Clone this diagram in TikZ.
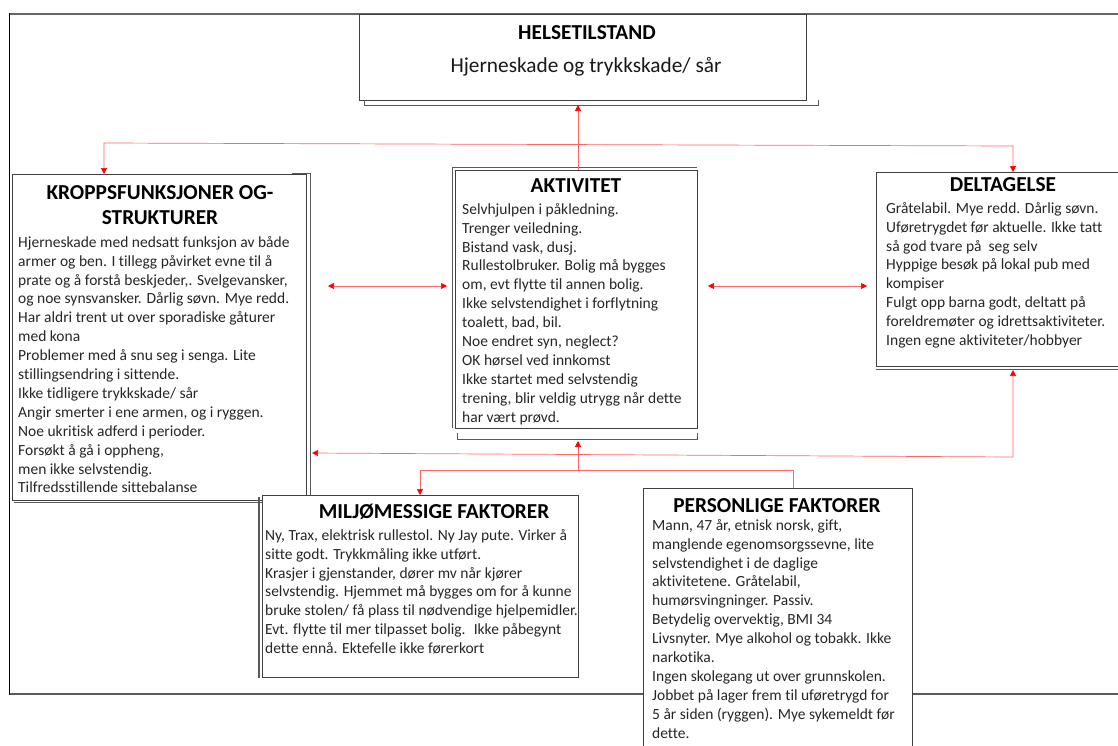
\documentclass[tikz,border=0pt]{standalone}
\usepackage{fontspec}
\setmainfont{Carlito}[Ligatures=NoCommon]
\usetikzlibrary{arrows.meta}
\begin{document}
\begin{tikzpicture}[x=1pt,y=-1pt,
  box/.style={draw=black!75, line width=0.9pt, fill=white, inner sep=0pt, anchor=north west},
  edge/.style={draw=black!65, line width=1pt},
  head/.style={font=\fontsize{21.3}{25}\selectfont\bfseries, text=black, inner sep=0pt, align=center},
  body/.style={font=\fontsize{15.5}{18.9}\selectfont, text=black!85, inner sep=0pt, align=left, anchor=north west},
  link/.style={draw=red!60, line width=0.7pt, >={Triangle[color=red, length=6pt, width=6pt]}},
]
\useasboundingbox (0,0) rectangle (1118,745);

% outer frame
\draw[draw=black!60, line width=1.8pt] (1130,14) -- (9.5,14);
\draw[draw=black, line width=1.2pt] (9.5,13) -- (9.5,695);
\draw[draw=black!65, line width=1.2pt] (9.5,694) -- (1130,694);

% boxes
\node[box, minimum width=294pt, minimum height=326pt] (kropp) at (12,174) {};
\draw[edge] (292,173) -- (310,173) -- (310,502) -- (14,502);
\node[box, minimum width=242pt, minimum height=258pt] (akt) at (455,170) {};
\draw[edge] (452,428) -- (452,167) -- (697,167);
\draw[edge] (457,433) -- (457,439) -- (697,439) -- (697,433);
\node[box, minimum width=250pt, minimum height=194pt] (delt) at (876,172) {};
\draw[edge] (876,369) -- (1130,369);
\node[box, minimum width=447pt, minimum height=86pt] (helse) at (359,14) {};
\draw[edge] (364,100) -- (364,105) -- (818,105) -- (818,100);
\node[box, minimum width=316pt, minimum height=182pt] (milj) at (262,495) {};
\draw[edge, line width=1.5pt] (259,497) -- (259,678);
\node[box, minimum width=269pt, minimum height=270pt] (pers) at (643,488) {};

% connectors
\coordinate (up) at (578,105);
\coordinate (tl) at (104,143);
\coordinate (tr) at (1013,146);
\coordinate (kl) at (328,286);
\coordinate (ar) at (447,286);
\coordinate (al) at (708,286);
\coordinate (dr) at (867,286);
\coordinate (bj) at (578,470);
\coordinate (bl) at (420,470);
\coordinate (br) at (793,470);
\coordinate (bk) at (312,453);
\coordinate (bd) at (1013,457);
\coordinate (bracket) at (578,441);

\draw[link,->] (akt.north -| up) -- (up);
\draw[link,<->] (tl |- kropp.north) -- (tl) -- (tr) -- (tr |- delt.north);
\draw[link,<->] (kl) -- (ar);
\draw[link,<->] (al) -- (dr);
\draw[link,->] (bj) -- (bracket);
\draw[link,->] (br |- pers.north) -- (br) -- (bl) -- (bl |- milj.north);
\draw[link,<->] (bk) -- (bd) -- (1013,370);

% headings
\node[head] (thelse) at (587,33) {HELSETILSTAND};
\node[font=\fontsize{21.3}{25}\selectfont, text=black!90, inner sep=0pt, anchor=base] (shelse) at (586,72) {Hjerneskade og trykkskade/ sår};
\node[head] (tkropp) at (160,205.5) {KROPPSFUNKSJONER OG-\\STRUKTURER};
\node[head] (takt) at (576,186) {AKTIVITET};
\node[head] (tdelt) at (1003,185) {DELTAGELSE};
\node[head] (tmilj) at (434,512) {MILJØMESSIGE FAKTORER};
\node[head] (tpers) at (777,506) {PERSONLIGE FAKTORER};

% body texts
\node[body] (bkropp) at (18,233.8) {\strut Hjerneskade med nedsatt funksjon av både\\
armer og ben. I tillegg påvirket evne til å\\
prate og å forstå beskjeder,. Svelgevansker,\\
og noe synsvansker. Dårlig søvn. Mye redd.\\
Har aldri trent ut over sporadiske gåturer\\
med kona\\
Problemer med å snu seg i senga. Lite\\
stillingsendring i sittende.\\
Ikke tidligere trykkskade/ sår\\
Angir smerter i ene armen, og i ryggen.\\
Noe ukritisk adferd i perioder.\\
Forsøkt å gå i oppheng,\\
men ikke selvstendig.\\
Tilfredsstillende sittebalanse};

\node[body] (bakt) at (462,200.8) {\strut Selvhjulpen i påkledning.\\
Trenger veiledning.\\
Bistand vask, dusj.\\
Rullestolbruker. Bolig må bygges\\
om, evt flytte til annen bolig.\\
Ikke selvstendighet i forflytning\\
toalett, bad, bil.\\
Noe endret syn, neglect?\\
OK hørsel ved innkomst\\
Ikke startet med selvstendig\\
trening, blir veldig utrygg når dette\\
har vært prøvd.};

\node[body] (bdelt) at (886,199.8) {\strut Gråtelabil. Mye redd. Dårlig søvn.\\
Uføretrygdet før aktuelle. Ikke tatt\\
så god tvare på~ seg selv\\
Hyppige besøk på lokal pub med\\
kompiser\\
Fulgt opp barna godt, deltatt på\\
foreldremøter og idrettsaktiviteter.\\
Ingen egne aktiviteter/hobbyer};

\node[body] (bmilj) at (265,526.8) {\strut Ny, Trax, elektrisk rullestol. Ny Jay pute. Virker å\\
sitte godt. Trykkmåling ikke utført.\\
Krasjer i gjenstander, dører mv når kjører\\
selvstendig. Hjemmet må bygges om for å kunne\\
bruke stolen/ få plass til nødvendige hjelpemidler.\\
Evt. flytte til mer tilpasset bolig.~ Ikke påbegynt\\
dette ennå. Ektefelle ikke førerkort};

\node[body] (bpers) at (652,516.8) {\strut Mann, 47 år, etnisk norsk, gift,\\
manglende egenomsorgssevne, lite\\
selvstendighet i de daglige\\
aktivitetene. Gråtelabil,\\
humørsvingninger. Passiv.\\
Betydelig overvektig, BMI 34\\
Livsnyter. Mye alkohol og tobakk. Ikke\\
narkotika.\\
Ingen skolegang ut over grunnskolen.\\
Jobbet på lager frem til uføretrygd for\\
5 år siden (ryggen). Mye sykemeldt før\\
dette.};
\end{tikzpicture}
\end{document}
